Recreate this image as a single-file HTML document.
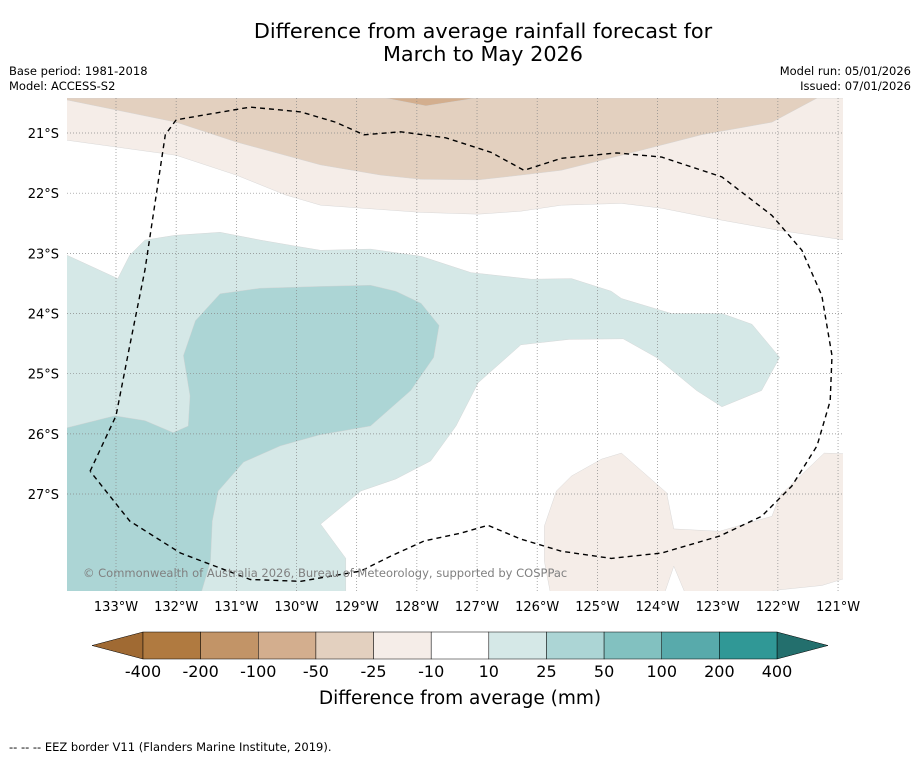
<!DOCTYPE html>
<html><head><meta charset="utf-8"><style>
body{margin:0;background:#fff;font-family:"Liberation Sans","DejaVu Sans",sans-serif;}
svg text{font-family:"DejaVu Sans","Liberation Sans",sans-serif;}
</style></head><body>
<svg id="chart" width="919" height="758" viewBox="0 0 919 758" xmlns="http://www.w3.org/2000/svg">
<rect width="919" height="758" fill="#fff"/>
<text x="483" y="38" font-size="20.8" text-anchor="middle">Difference from average rainfall forecast for</text>
<text x="483" y="61" font-size="20.8" text-anchor="middle">March to May 2026</text>
<text x="9" y="75" font-size="11.5">Base period: 1981-2018</text>
<text x="9" y="90" font-size="11.5">Model: ACCESS-S2</text>
<text x="911" y="75" font-size="11.5" text-anchor="end">Model run: 05/01/2026</text>
<text x="911" y="90" font-size="11.5" text-anchor="end">Issued: 07/01/2026</text>
<defs><clipPath id="mapclip"><rect x="67" y="98" width="776" height="493"/></clipPath></defs>
<g id="map" clip-path="url(#mapclip)"></g>
<g id="grid"></g>
<g id="xticks"></g>
<g id="yticks"></g>
<text x="83" y="577" font-size="11.5" fill="#808080">© Commonwealth of Australia 2026, Bureau of Meteorology, supported by COSPPac</text>
<g id="cbar"></g>
<text x="460" y="704" font-size="18.5" text-anchor="middle">Difference from average (mm)</text>
<text x="9" y="751" font-size="11.5">--  --  -- EEZ border V11 (Flanders Marine Institute, 2019).</text>
</svg>
<script>
const lonTicks = [133,132,131,130,129,128,127,126,125,124,123,122,121];
const latTicks = [21,22,23,24,25,26,27];
const cbarLabels = ["-400","-200","-100","-50","-25","-10","10","25","50","100","200","400"];
const cbarColors = ["#b07a40","#c29467","#d3ae8e","#e3d0bf","#f5ede8","#ffffff","#d5e8e7","#acd5d5","#82c1c0","#58aaab","#309896"];
const bandLight = [[133.82,20.42],[120.88,20.42],[120.88,22.78],[121.97,22.62],[122.93,22.45],[123.93,22.25],[124.6,22.17],[125.6,22.2],[126.27,22.3],[126.98,22.35],[127.93,22.32],[129.6,22.2],[130.18,22.03],[131.0,21.70],[132.0,21.37],[133.82,21.12]];
const bandMid = [[133.82,20.42],[121.35,20.42],[122.1,20.82],[123.27,21.03],[124.6,21.37],[125.6,21.62],[126.27,21.7],[126.98,21.78],[127.93,21.77],[128.6,21.7],[129.6,21.53],[131,21.15],[132,20.82],[133.82,20.45]];
const bandDark = [[128.52,20.42],[127.85,20.55],[127.02,20.42]];
const tealLight = [[133.82,23.03],[132.97,23.42],[132.77,23.03],[132.52,22.78],[132.02,22.7],[131.27,22.65],[130.6,22.78],[130.02,22.88],[129.6,22.95],[128.77,22.93],[127.93,23.05],[127.1,23.32],[126.1,23.43],[125.43,23.42],[124.77,23.63],[124.6,23.75],[123.77,24.0],[122.93,24.0],[122.43,24.18],[121.97,24.73],[122.27,25.28],[122.93,25.55],[123.35,25.28],[124.02,24.73],[124.57,24.42],[125.47,24.43],[126.27,24.52],[126.98,25.15],[127.35,25.87],[127.77,26.45],[128.35,26.75],[128.93,26.95],[129.6,27.5],[129.18,28.07],[129.18,28.7],[133.82,28.7]];
const tealMid = [[133.82,25.9],[133.02,25.7],[132.52,25.78],[132.05,25.98],[131.8,25.87],[131.77,25.37],[131.88,24.7],[131.68,24.12],[131.27,23.67],[130.6,23.58],[129.6,23.55],[128.77,23.53],[128.35,23.63],[127.93,23.83],[127.63,24.2],[127.72,24.73],[128.1,25.28],[128.77,25.87],[129.63,26.02],[130.27,26.2],[130.88,26.47],[131.3,26.95],[131.4,27.45],[131.43,28.12],[131.6,28.7],[133.82,28.7]];
const brownSE = [[125.88,27.53],[125.68,26.95],[125.43,26.7],[124.93,26.42],[124.6,26.32],[123.85,26.98],[123.73,27.58],[122.97,27.62],[122.1,27.37],[121.97,27.03],[121.23,26.32],[120.88,26.33],[120.88,28.4],[121.27,28.52],[122.05,28.6],[122.35,28.7],[123.52,28.7],[123.73,28.2],[123.9,28.7],[125.77,28.7],[125.88,28.12]];
const eez = [[133.43,26.62],[133.0,25.7],[132.77,24.53],[132.52,23.28],[132.18,21.03],[132.0,20.78],[130.77,20.57],[129.93,20.65],[129.35,20.82],[128.88,21.03],[128.27,20.98],[127.52,21.08],[126.77,21.32],[126.22,21.62],[125.6,21.42],[124.68,21.33],[123.93,21.4],[122.93,21.73],[122.1,22.37],[121.6,22.95],[121.27,23.7],[121.1,24.7],[121.13,25.45],[121.35,26.2],[121.77,26.87],[122.27,27.37],[122.97,27.7],[123.93,27.98],[124.77,28.07],[125.6,27.95],[126.27,27.75],[126.82,27.52],[127.27,27.65],[127.88,27.78],[128.43,28.03],[128.93,28.28],[129.93,28.45],[130.77,28.42],[131.93,27.98],[132.77,27.45],[133.43,26.62]];

const K = 60.17;
const X = lonW => 116 + (133 - lonW) * K;
const Y = latS => 133 + (latS - 21) * K;
const NS = "http://www.w3.org/2000/svg";
function mk(tag, attrs, parent){const e=document.createElementNS(NS,tag);for(const k in attrs)e.setAttribute(k,attrs[k]);parent.appendChild(e);return e;}
const pts = arr => arr.map(p => X(p[0]).toFixed(1)+","+Y(p[1]).toFixed(1)).join(" ");

const map = document.getElementById("map");
const layers = [[bandLight,"#f5ede8","region-minus10"],[bandMid,"#e3d0bf","region-minus25"],[bandDark,"#d3ae8e","region-minus50"],[tealLight,"#d5e8e7","region-plus10"],[tealMid,"#acd5d5","region-plus25"],[brownSE,"#f5ede8","region-minus10-southeast"]];
layers.forEach(l => {
  const p = mk("polygon",{points:pts(l[0]),fill:l[1],stroke:"#d0d0d0","stroke-width":"0.4"},map);
  
  
});

const grid = document.getElementById("grid");
lonTicks.forEach(t => {
  const l = mk("line",{x1:X(t),x2:X(t),y1:98,y2:591,stroke:"#888","stroke-width":"0.7","stroke-dasharray":"1,2"},grid);
  
  
  const tx = mk("text",{x:X(t),y:611,"font-size":"13","text-anchor":"middle"},document.getElementById("xticks"));
  tx.textContent = t + "°W";
  
  
});
latTicks.forEach(t => {
  const l = mk("line",{x1:67,x2:843,y1:Y(t),y2:Y(t),stroke:"#888","stroke-width":"0.7","stroke-dasharray":"1,2"},grid);
  
  
  const tx = mk("text",{x:59,y:Y(t)+5,"font-size":"13","text-anchor":"end"},document.getElementById("yticks"));
  tx.textContent = t + "°S";
  
  
});
const e = mk("polyline",{points:pts(eez),fill:"none",stroke:"#000","stroke-width":"1.4","stroke-dasharray":"5,4","stroke-linejoin":"round"},grid);



const cb = document.getElementById("cbar");
const cx0 = 143, cx1 = 777, cy0 = 632, cy1 = 659, w = (cx1 - cx0) / cbarColors.length;
const lt = mk("polygon",{points:`92,${(cy0+cy1)/2} ${cx0},${cy0} ${cx0},${cy1}`,fill:"#a06a33",stroke:"#000","stroke-width":"0.5"},cb);


const rt = mk("polygon",{points:`828,${(cy0+cy1)/2} ${cx1},${cy0} ${cx1},${cy1}`,fill:"#236f6d",stroke:"#000","stroke-width":"0.5"},cb);


cbarColors.forEach((c,i) => {
  const r = mk("rect",{x:cx0+i*w,y:cy0,width:w,height:cy1-cy0,fill:c,stroke:"#000","stroke-width":"0.5"},cb);
  
  
});
cbarLabels.forEach((s,i) => {
  const t = mk("text",{x:cx0+i*w,y:677,"font-size":"16","text-anchor":"middle"},cb);
  t.textContent = s;
  
  
});
</script>
</body></html>
